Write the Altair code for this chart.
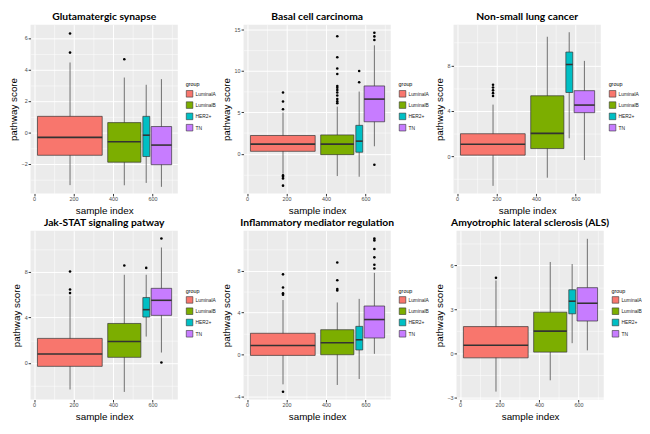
import altair as alt
import pandas as pd

groups = ["LuminalA", "LuminalB", "HER2+", "TN"]
colors = ["#F8766D", "#7CAE00", "#00BFC4", "#C77CFF"]
box_left = [17, 373, 551, 593]
box_right = [345, 541, 586, 697]
box_center = [182, 457, 568, 645]
x_ticks = [0, 200, 400, 600]

titles = ["Glutamatergic synapse", "Basal cell carcinoma", "Non-small lung cancer",
          "Jak-STAT signaling patway", "Inflammatory mediator regulation",
          "Amyotrophic lateral sclerosis (ALS)"]

# Panel 1
p1_lower = [-3.37, -3.38, -3.23, -3.48]
p1_q1 = [-1.47, -1.91, -1.55, -2.07]
p1_med = [-0.33, -0.61, -0.19, -0.82]
p1_q3 = [1.01, 0.61, 1.01, 0.36]
p1_upper = [4.44, 3.48, 3.02, 3.38]
p1_out = [[6.29, 5.07], [4.65], [], []]
p1_ticks = [-2, 0, 2, 4, 6]
p1_dom = [-3.9, 6.85]

# Panel 2
p2_lower = [-2.42, -2.7, -2.78, 0.9]
p2_q1 = [0.29, -0.11, 0.18, 3.86]
p2_med = [1.16, 1.16, 1.52, 6.6]
p2_q3 = [2.2, 2.27, 3.43, 8.19]
p2_upper = [4.98, 5.69, 7.51, 13.1]
p2_out = [[7.39, 6.31, 5.37, -2.62, -2.78, -3.0, -3.86],
          [14.19, 11.66, 10.29, 9.64, 8.19, 7.97, 7.69, 7.4, 7.04, 6.6, 6.32, 6.1],
          [10.0, 8.63],
          [14.61, 14.18, 13.74, -1.34]]
p2_ticks = [0, 5, 10, 15]
p2_dom = [-4.8, 15.6]

# Panel 3
p3_lower = [-2.63, -1.91, 1.57, -0.35]
p3_q1 = [0.08, 0.66, 5.61, 3.83]
p3_med = [1.04, 2.0, 8.08, 4.5]
p3_q3 = [1.97, 5.32, 9.18, 5.77]
p3_upper = [4.54, 10.53, 10.93, 8.4]
p3_out = [[6.3, 6.05, 5.8, 5.55, 5.3], [], [], []]
p3_ticks = [0, 4, 8]
p3_dom = [-3.3, 11.6]

# Panel 4
p4_lower = [-2.32, -2.53, 2.32, 0.92]
p4_q1 = [-0.29, 0.5, 4.03, 4.18]
p4_med = [0.79, 1.89, 4.68, 5.5]
p4_q3 = [2.16, 3.47, 5.74, 6.55]
p4_upper = [5.89, 7.74, 7.74, 10.13]
p4_out = [[8.03, 6.45, 6.13], [8.55], [8.34], [10.92, 0.05]]
p4_ticks = [0, 4, 8]
p4_dom = [-3.2, 11.6]

# Panel 5
p5_lower = [-2.85, -2.91, -2.34, 0.06]
p5_q1 = [-0.09, -0.03, 0.43, 1.57]
p5_med = [0.85, 1.11, 1.4, 3.33]
p5_q3 = [2.02, 2.36, 2.68, 4.62]
p5_upper = [5.19, 4.96, 5.3, 7.78]
p5_out = [[7.64, 6.38, 5.84, 5.7, -3.56], [8.77, 7.07, 6.24, 6.1], [],
          [11.05, 10.88, 10.06, 9.26, 8.55, 8.2]]
p5_ticks = [-4, 0, 4, 8]
p5_dom = [-4.3, 11.8]

# Panel 6
p6_lower = [-2.61, -1.84, 0.69, 0.2]
p6_q1 = [-0.31, 0.08, 2.69, 2.2]
p6_med = [0.55, 1.51, 3.55, 3.41]
p6_q3 = [1.82, 2.8, 4.33, 4.47]
p6_upper = [4.96, 6.22, 6.08, 7.8]
p6_out = [[5.14], [], [], []]
p6_ticks = [-3, 0, 3, 6]
p6_dom = [-3.15, 8.35]

panels = [
    (p1_lower, p1_q1, p1_med, p1_q3, p1_upper, p1_out, p1_ticks, p1_dom),
    (p2_lower, p2_q1, p2_med, p2_q3, p2_upper, p2_out, p2_ticks, p2_dom),
    (p3_lower, p3_q1, p3_med, p3_q3, p3_upper, p3_out, p3_ticks, p3_dom),
    (p4_lower, p4_q1, p4_med, p4_q3, p4_upper, p4_out, p4_ticks, p4_dom),
    (p5_lower, p5_q1, p5_med, p5_q3, p5_upper, p5_out, p5_ticks, p5_dom),
    (p6_lower, p6_q1, p6_med, p6_q3, p6_upper, p6_out, p6_ticks, p6_dom),
]

W = 150
H = 172
X_DOM = [-18, 728]
LABEL_FONT = "Liberation Sans"


def with_minor(ticks, dom):
    step = ticks[1] - ticks[0]
    vals = list(ticks)
    for t in [ticks[0] - step / 2] + [t + step / 2 for t in ticks]:
        if dom[0] <= t <= dom[1]:
            vals.append(t)
    return sorted(vals), step


def make_axis(title, ticks, dom):
    vals, step = with_minor(ticks, dom)
    test = f"abs(datum.value % {step}) < 0.001"
    return alt.Axis(
        title=title, values=vals,
        labelExpr=f"{test} ? datum.label : ''",
        labelOverlap=False,
        labelFontSize=5.5, labelColor="#4D4D4D", labelFont=LABEL_FONT, labelPadding=1,
        tickSize=2.5, tickColor="#333333",
        tickOpacity={"condition": {"test": test, "value": 1}, "value": 0},
        grid=True, gridColor="#FFFFFF",
        gridWidth={"condition": {"test": test, "value": 1.0}, "value": 0.5},
        domain=False,
        titleFontSize=10, titleFont=LABEL_FONT, titleFontWeight="normal",
        titleColor="#000000", titlePadding=3,
    )


def panel(k):
    lower, q1, med, q3, upper, outs, ticks, dom = panels[k]
    box = pd.DataFrame({"group": groups, "left": box_left, "right": box_right,
                        "center": box_center, "lower": lower, "q1": q1,
                        "med": med, "q3": q3, "upper": upper})
    rows = []
    for g, c, o in zip(groups, box_center, outs):
        for v in o:
            rows.append({"group": g, "center": c, "value": v})
    out = pd.DataFrame(rows, columns=["group", "center", "value"])

    xs = alt.Scale(domain=X_DOM, nice=False, zero=False)
    ys = alt.Scale(domain=dom, nice=False, zero=False)
    xa = make_axis("sample index", x_ticks, X_DOM)
    ya = make_axis("pathway score", ticks, dom)

    base = alt.Chart(box)
    whisk = base.mark_rule(color="#4d4d4d", strokeWidth=0.8).encode(
        x=alt.X("center:Q", scale=xs, axis=xa),
        y=alt.Y("lower:Q", scale=ys, axis=ya),
        y2="upper:Q",
    )
    boxes = base.mark_bar(stroke="#333333", strokeWidth=0.7, opacity=1).encode(
        x=alt.X("left:Q", scale=xs, axis=xa),
        x2="right:Q",
        y=alt.Y("q1:Q", scale=ys, axis=ya),
        y2="q3:Q",
        color=alt.Color("group:N", scale=alt.Scale(domain=groups, range=colors),
                        legend=alt.Legend(
                            title="group", orient="none",
                            legendX=W + 8, legendY=H / 2 - 27,
                            titleFontSize=5.5, titleFont=LABEL_FONT,
                            titleFontWeight="normal", titleColor="#000000",
                            titlePadding=2,
                            labelFontSize=5, labelFont=LABEL_FONT, labelColor="#222222",
                            symbolType="square", symbolSize=45,
                            symbolStrokeColor="#333333", symbolStrokeWidth=0.6,
                            symbolOpacity=1, rowPadding=1.5, labelOffset=2)),
    )
    medians = base.mark_rule(color="#333333", strokeWidth=1.6).encode(
        x=alt.X("left:Q", scale=xs, axis=xa),
        x2="right:Q",
        y=alt.Y("med:Q", scale=ys, axis=ya),
    )
    pts = alt.Chart(out).mark_circle(size=7, color="#000000", opacity=1).encode(
        x=alt.X("center:Q", scale=xs, axis=xa),
        y=alt.Y("value:Q", scale=ys, axis=ya),
    )
    return alt.layer(whisk, boxes, medians, pts).properties(
        width=W, height=H,
        title=alt.TitleParams(titles[k], fontSize=10.5, font="Lato", fontWeight="bold",
                              anchor="middle", offset=2, color="#000000"),
    )


row1 = alt.hconcat(panel(0), panel(1), panel(2), spacing=5).resolve_scale(
    x="independent", y="independent", color="independent")
row2 = alt.hconcat(panel(3), panel(4), panel(5), spacing=5).resolve_scale(
    x="independent", y="independent", color="independent")

chart = alt.vconcat(row1, row2, spacing=3).resolve_scale(
    x="independent", y="independent", color="independent"
).properties(padding=0).configure_view(fill="#EBEBEB", stroke=None)

chart.save("out.html", embed_options={"renderer": "svg", "actions": False})
